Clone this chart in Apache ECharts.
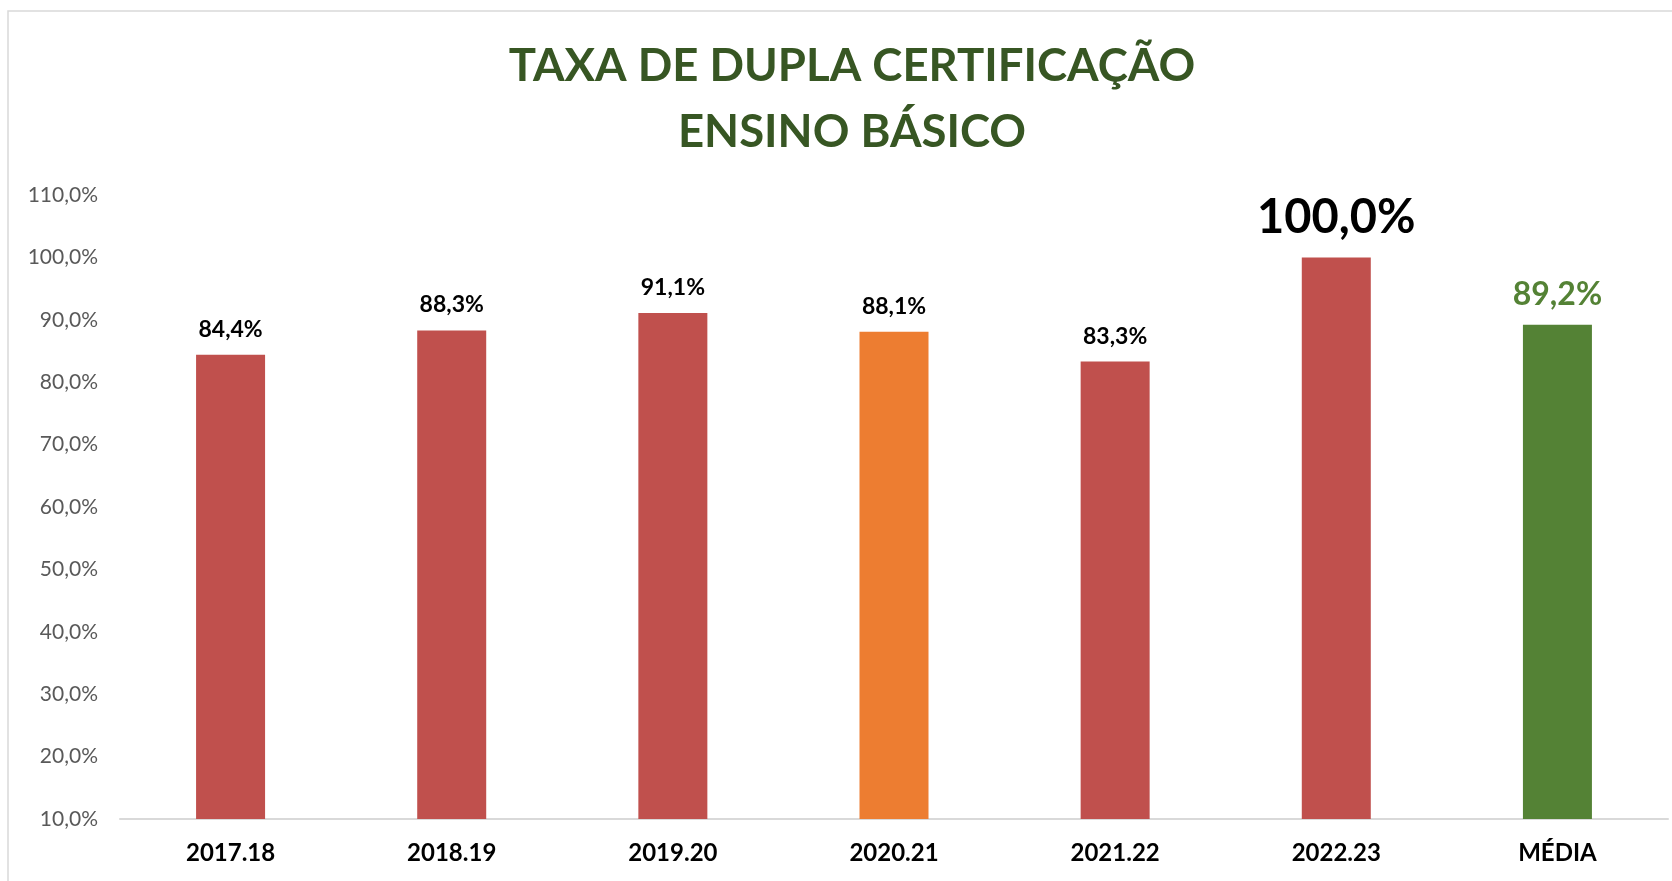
<!DOCTYPE html>
<html>
<head>
<meta charset="utf-8">
<script src="https://cdn.jsdelivr.net/npm/echarts@6/dist/echarts.min.js"></script>
<style>
html,body{margin:0;padding:0;background:#fff;}
#chart{width:1672px;height:881px;}
</style>
</head>
<body>
<div id="chart"></div>
<script>
const titleLines = ['TAXA DE DUPLA CERTIFICAÇÃO', 'ENSINO BÁSICO'];
const categories = ['2017.18', '2018.19', '2019.20', '2020.21', '2021.22', '2022.23', 'MÉDIA'];
const values = [84.4, 88.3, 91.1, 88.1, 83.3, 100.0, 89.2];
const yTicks = [10, 20, 30, 40, 50, 60, 70, 80, 90, 100, 110];

const FONT = 'Lato';
const RED = '#C0504D', ORANGE = '#ED7D31', GREEN = '#548235';

function fmt(v) { return v.toFixed(1).replace('.', ',') + '%'; }

function styleFor(i) {
  if (categories[i] === 'MÉDIA') return {color: GREEN, labelColor: GREEN, size: 32, dist: 14};
  if (i === 3) return {color: ORANGE, labelColor: '#000', size: 23, dist: 14};
  if (values[i] === Math.max.apply(null, values.slice(0, 6))) return {color: RED, labelColor: '#000', size: 47, dist: 16};
  return {color: RED, labelColor: '#000', size: 23, dist: 14};
}

const seriesData = values.map((v, i) => {
  const s = styleFor(i);
  return {
    value: v,
    itemStyle: {color: s.color},
    label: {color: s.labelColor, fontSize: s.size, distance: s.dist}
  };
});

const chart = echarts.init(document.getElementById('chart'), null, {renderer: 'canvas'});
chart.setOption({
  backgroundColor: '#fff',
  animation: false,
  title: {
    text: titleLines.join('\n'),
    left: 852,
    top: 33,
    padding: 0,
    textAlign: 'center',
    textStyle: {
      fontFamily: FONT,
      fontWeight: 'bold',
      fontSize: 45.5,
      lineHeight: 66,
      color: '#375623'
    }
  },
  graphic: [{
    type: 'rect',
    shape: {x: 8, y: 11, width: 1700, height: 900},
    style: {fill: 'none', stroke: '#d9d9d9', lineWidth: 1.5},
    silent: true,
    z: -1
  }],
  grid: {left: 120, right: 4, top: 195, bottom: 62, containLabel: false},
  xAxis: {
    type: 'category',
    data: categories,
    axisLine: {show: true, lineStyle: {color: '#d9d9d9', width: 2}},
    axisTick: {show: false},
    axisLabel: {
      fontFamily: FONT, fontWeight: 'bold', fontSize: 24, color: '#000', margin: 22
    },
    splitLine: {show: false}
  },
  yAxis: {
    type: 'value',
    min: yTicks[0],
    max: yTicks[yTicks.length - 1],
    interval: yTicks[1] - yTicks[0],
    axisLine: {show: false},
    axisTick: {show: false},
    splitLine: {show: false},
    axisLabel: {
      fontFamily: FONT, fontSize: 21, color: '#595959', margin: 22,
      formatter: v => fmt(v)
    }
  },
  series: [{
    type: 'bar',
    data: seriesData,
    barWidth: 69,
    label: {
      show: true,
      position: 'top',
      fontFamily: FONT,
      fontWeight: 'bold',
      formatter: p => fmt(p.value)
    }
  }]
});
</script>
</body>
</html>
